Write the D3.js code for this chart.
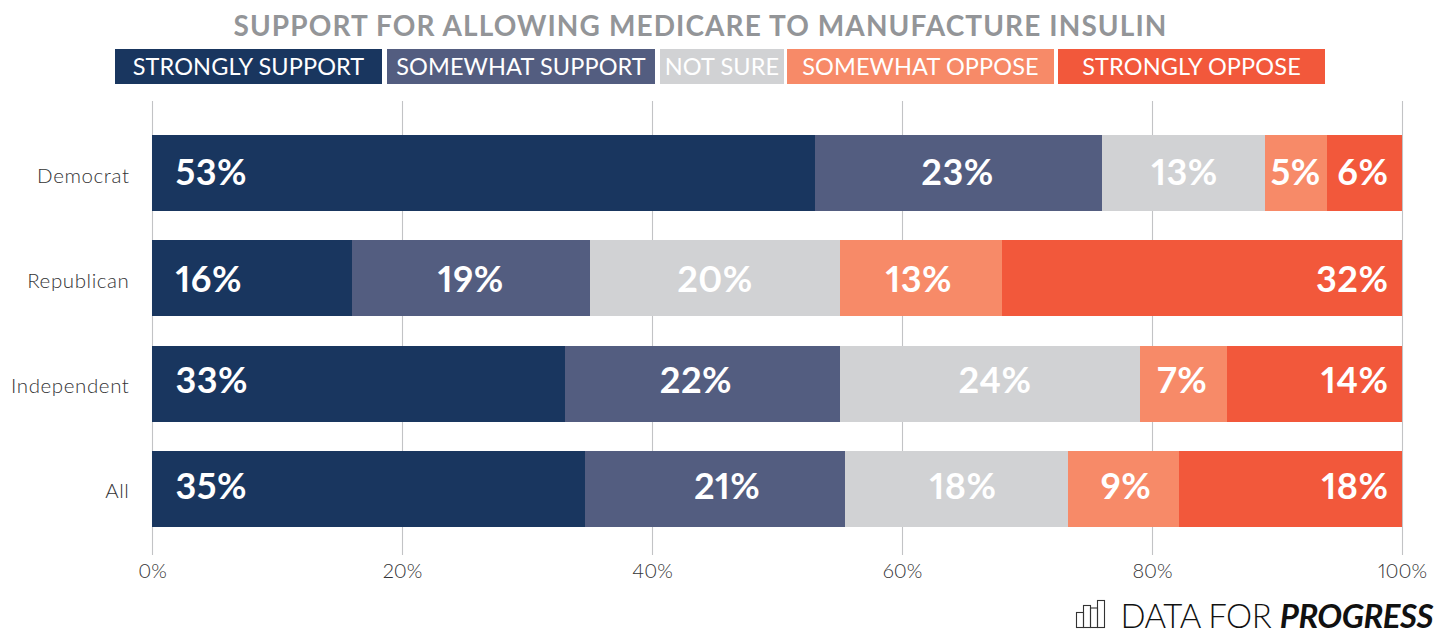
<!DOCTYPE html>
<html>
<head>
<meta charset="utf-8">
<script src="https://cdn.jsdelivr.net/npm/d3@7/dist/d3.min.js"></script>
<style>
html,body{margin:0;padding:0;background:#fff}
svg{display:block}
text{font-family:Lato,"Open Sans",sans-serif;font-variant-numeric:proportional-nums}
</style>
</head>
<body>
<svg id="chart" width="1450" height="631"></svg>
<script>
const titleText = "SUPPORT FOR ALLOWING MEDICARE TO MANUFACTURE INSULIN";
const groups = ["Democrat", "Republican", "Independent", "All"];
const responses = ["STRONGLY SUPPORT", "SOMEWHAT SUPPORT", "NOT SURE", "SOMEWHAT OPPOSE", "STRONGLY OPPOSE"];
const colors = ["#19365f", "#535d80", "#d1d2d4", "#f78a68", "#f2583b"];
const stronglySupport = [53, 16, 33, 35];
const somewhatSupport = [23, 19, 22, 21];
const notSure = [13, 20, 24, 18];
const somewhatOppose = [5, 13, 7, 9];
const stronglyOppose = [6, 32, 14, 18];
const xTicks = [0, 0.2, 0.4, 0.6, 0.8, 1];
const logoBars = [15, 22, 19.5, 27];

const seriesValues = [stronglySupport, somewhatSupport, notSure, somewhatOppose, stronglyOppose];
const rows = groups.map((g, i) => {
  const row = {group: g};
  responses.forEach((r, j) => { row[r] = seriesValues[j][i]; });
  return row;
});

const svg = d3.select("#chart");

// Each row is scaled to its own total, since rounded shares may not add up to 100.
const stacked = d3.stack().keys(responses).offset(d3.stackOffsetExpand)(rows);

const x = d3.scaleLinear().domain([0, 1]).range([152, 1402]);
const y = d3.scaleBand().domain(groups).range([120.4, 541.6]).paddingInner(0.278).paddingOuter(0.139);
const color = d3.scaleOrdinal().domain(responses).range(colors);

// Title
svg.append("text")
  .attr("x", 700.5).attr("y", 35.5)
  .attr("text-anchor", "middle")
  .attr("font-size", 28).attr("font-weight", 700)
  .attr("letter-spacing", 1.1)
  .attr("fill", "#939598")
  .text(titleText);

// Legend: boxes sit in a row with slim white gaps, labels centred in each box
const legendSpans = [[115, 382], [387, 655], [660, 784], [787, 1054], [1058, 1325]];
const legend = svg.append("g").selectAll("g").data(responses).join("g");
legend.append("rect")
  .attr("x", (d, i) => legendSpans[i][0])
  .attr("width", (d, i) => legendSpans[i][1] - legendSpans[i][0])
  .attr("y", 49).attr("height", 35)
  .attr("fill", d => color(d));
legend.append("text")
  .attr("x", (d, i) => (legendSpans[i][0] + legendSpans[i][1]) / 2)
  .attr("y", 75)
  .attr("text-anchor", "middle")
  .attr("font-size", 23.5)
  .attr("letter-spacing", 0.12)
  .attr("fill", "#fff")
  .text(d => d);

// Axis with full-height gridlines drawn as its ticks
const axis = svg.append("g")
  .attr("transform", "translate(0,555)")
  .call(d3.axisBottom(x).tickValues(xTicks).tickFormat(d3.format(".0%")).tickSize(-454).tickPadding(9));
axis.select(".domain").remove();
axis.selectAll("line").attr("stroke", "#c2c3c5").attr("stroke-width", 1.1);
axis.selectAll("text")
  .attr("font-size", 20).attr("font-weight", 300)
  .attr("font-family", "Lato").attr("fill", "#333335");

// Group labels
svg.append("g").selectAll("text").data(groups).join("text")
  .attr("x", 129.5)
  .attr("y", d => y(d) + y.bandwidth() / 2 + 9.5)
  .attr("text-anchor", "end")
  .attr("font-size", 20.5).attr("font-weight", 300)
  .attr("letter-spacing", 0.6)
  .attr("fill", "#333335")
  .text(d => d);

// Stacked bars
const layers = svg.append("g").selectAll("g").data(stacked).join("g")
  .attr("fill", d => color(d.key));
layers.selectAll("rect").data(d => d).join("rect")
  .attr("x", d => x(d[0]))
  .attr("width", d => x(d[1]) - x(d[0]))
  .attr("y", d => y(d.data.group))
  .attr("height", y.bandwidth())
  .attr("shape-rendering", "crispEdges");

// Value labels: first and last segments hug the bar ends, the middle three are
// placed by hand around their segment centres.
const labelBaseline = [12, 13.7, 9.3, 10];
const labelShift = [
  [0, -0.75, 1.25, 0, 0],
  [0, 0, 0.5, -2, 0],
  [0, -6, 5.5, -1, 0],
  [0, 12, 6.6, 2.5, 0]
];
const lastLayer = responses.length - 1;
const labels = svg.append("g").selectAll("g").data(stacked).join("g");
labels.each(function(layer, j) {
  d3.select(this).selectAll("text").data(layer).join("text")
    .attr("x", (d, i) => {
      if (j === 0) return x(d[0]) + 23.5;
      if (j === lastLayer) return x(d[1]) - 13.5;
      return (x(d[0]) + x(d[1])) / 2 + labelShift[i][j];
    })
    .attr("y", (d, i) => y(d.data.group) + y.bandwidth() / 2 + labelBaseline[i])
    .attr("text-anchor", j === 0 ? "start" : j === lastLayer ? "end" : "middle")
    .attr("font-size", 36).attr("font-weight", 700)
    .attr("letter-spacing", 0.5)
    .attr("fill", "#fff")
    .text(d => d.data[layer.key] + "%");
});

// Wordmark
const logoX = d3.scaleBand().domain(d3.range(logoBars.length)).range([1076.5, 1104.5]);
svg.append("g").selectAll("rect").data(logoBars).join("rect")
  .attr("x", (d, i) => logoX(i))
  .attr("width", logoX.bandwidth())
  .attr("y", d => 627.5 - d)
  .attr("height", d => d)
  .attr("fill", "none").attr("stroke", "#333").attr("stroke-width", 1.1);
const mark = svg.append("text")
  .attr("x", 1120.5).attr("y", 627.5)
  .attr("font-size", 33).attr("letter-spacing", -0.5).attr("fill", "#111");
mark.append("tspan").attr("font-weight", 300).text("DATA FOR ");
mark.append("tspan").attr("font-weight", 700).attr("font-style", "italic").text("PROGRESS");
</script>
</body>
</html>
